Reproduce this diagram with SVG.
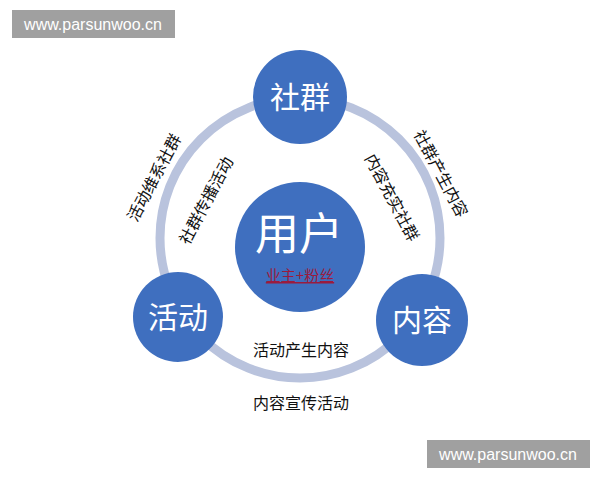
<svg xmlns="http://www.w3.org/2000/svg" width="600" height="480" viewBox="0 0 600 480">
<style>
.n{fill:#3f6fbf}
.w{fill:#fff;font-family:"Noto Sans CJK SC",sans-serif;text-anchor:middle}
.t{fill:#111;font-family:"Noto Sans CJK SC",sans-serif;font-size:16px;text-anchor:middle;dominant-baseline:central}
.wm{fill:#fff;font-family:"Liberation Sans",sans-serif;font-size:16px;text-anchor:middle}
</style>
<rect width="600" height="480" fill="#fff"/>
<rect x="12" y="10" width="163" height="28" fill="#a0a0a0"/>
<text class="wm" x="93" y="30">www.parsunwoo.cn</text>
<rect x="427" y="440" width="163" height="28" fill="#a0a0a0"/>
<text class="wm" x="508" y="460">www.parsunwoo.cn</text>
<g id="connectors">
<circle cx="300" cy="238" r="140" fill="none" stroke="#b9c3dd" stroke-width="9"/>
<text class="t" transform="translate(153,177) rotate(-62)">活动维系社群</text>
<text class="t" transform="translate(205,200) rotate(-62)">社群传播活动</text>
<text class="t" transform="translate(442,173) rotate(62)">社群产生内容</text>
<text class="t" transform="translate(393,197) rotate(62)">内容充实社群</text>
<text class="t" x="301" y="349">活动产生内容</text>
<text class="t" x="301" y="402">内容宣传活动</text>
</g>
<g id="shequn"><circle class="n" cx="300" cy="97" r="47"/><text class="w" x="300" y="108" font-size="30">社群</text></g>
<g id="huodong"><circle class="n" cx="178" cy="317" r="45"/><text class="w" x="178" y="328" font-size="30">活动</text></g>
<g id="neirong"><circle class="n" cx="422" cy="320" r="46"/><text class="w" x="422" y="331" font-size="30">内容</text></g>
<g id="yonghu"><circle class="n" cx="300" cy="247" r="65"/><text class="w" x="299" y="250" font-size="44">用户</text>
<text x="300" y="281" font-size="15" fill="#9b1b3d" text-anchor="middle" font-family="Noto Sans CJK SC,sans-serif" text-decoration="underline">业主+粉丝</text></g>
</svg>
